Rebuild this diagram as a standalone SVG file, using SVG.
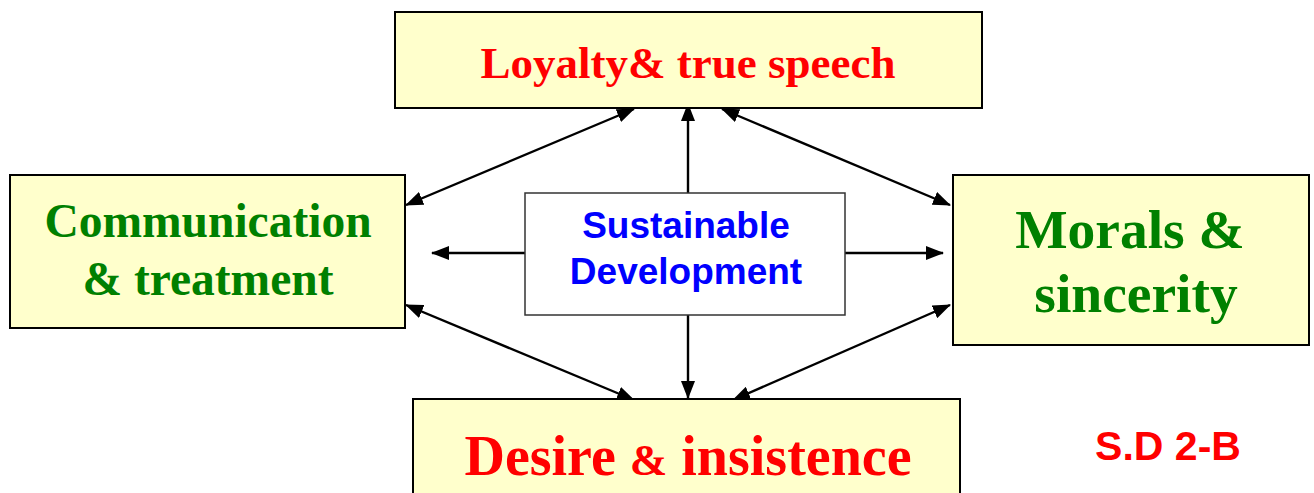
<svg xmlns="http://www.w3.org/2000/svg" width="1314" height="493" viewBox="0 0 1314 493">
<style>
.box{fill:#FFFFCC;stroke:#000;stroke-width:2}
.center{fill:#fff;stroke:#333;stroke-width:1.5}
.red{fill:#FF0000;font-family:"Liberation Serif","Times New Roman",serif;font-weight:bold;text-anchor:middle}
.green{fill:#008000;font-family:"Liberation Serif","Times New Roman",serif;font-weight:bold;text-anchor:middle}
.blue{fill:#0000FF;font-family:"Liberation Sans",Arial,sans-serif;font-weight:bold;text-anchor:middle;font-size:37px}
.con{stroke:#000;stroke-width:2.4;fill:none}
.both{marker-start:url(#ah);marker-end:url(#ah)}
.one{marker-end:url(#ah)}
</style>
<defs>
<marker id="ah" viewBox="0 0 18 14" refX="17" refY="7" markerWidth="18" markerHeight="14" markerUnits="userSpaceOnUse" orient="auto-start-reverse">
<path d="M0,0 L18,7 L0,14 z" fill="#000"/>
</marker>
</defs>
<rect width="1314" height="493" fill="#fff"/>
<g id="connectors">
<line class="con both" x1="406" y1="205" x2="634" y2="109"/>
<line class="con one" x1="688" y1="193" x2="688" y2="104"/>
<line class="con both" x1="722" y1="109" x2="950" y2="205"/>
<line class="con one" x1="525" y1="253" x2="432" y2="253"/>
<line class="con one" x1="845" y1="253" x2="943" y2="253"/>
<line class="con both" x1="406" y1="305" x2="634" y2="400"/>
<line class="con one" x1="688" y1="315" x2="688" y2="398"/>
<line class="con both" x1="733" y1="400" x2="950" y2="305"/>
</g>
<g id="node-top">
<rect class="box" x="395" y="12" width="587" height="96"/>
<text class="red" x="688" y="78" font-size="45">Loyalty&amp; true speech</text>
</g>
<g id="node-left">
<rect class="box" x="10" y="175" width="395" height="153"/>
<text class="green" x="208" y="237" font-size="47.5">Communication</text>
<text class="green" x="208" y="295" font-size="47.5">&amp; treatment</text>
</g>
<g id="node-right">
<rect class="box" x="953" y="175" width="356" height="170"/>
<text class="green" x="1130" y="248" font-size="55.5">Morals &amp;</text>
<text class="green" x="1136" y="312" font-size="55.5">sincerity</text>
</g>
<g id="node-bottom">
<rect class="box" x="413" y="399" width="547" height="100"/>
<text class="red" x="688" y="475" font-size="56">Desire <tspan font-size="45">&amp;</tspan> insistence</text>
</g>
<g id="node-center">
<rect class="center" x="525" y="193" width="320" height="122"/>
<text class="blue" x="686" y="238">Sustainable</text>
<text class="blue" x="686" y="284">Development</text>
</g>
<g id="label">
<text x="1168" y="460" fill="#FF0000" font-family="'Liberation Sans',Arial,sans-serif" font-weight="bold" font-size="41" text-anchor="middle">S.D 2-B</text>
</g>
</svg>
